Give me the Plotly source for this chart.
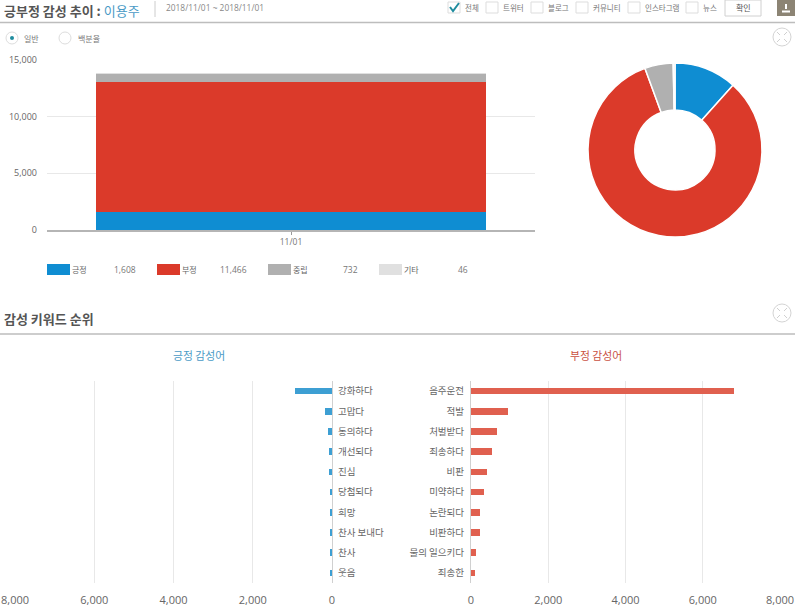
import plotly.graph_objects as go

sentiments = ["긍정", "부정", "중립", "기타"]
sentiment_values = [1608, 11466, 732, 46]
sentiment_colors = ["#0f8dd2", "#db3a2a", "#b0b0b0", "#e0e0e0"]
dates = ["11/01"]

pos_words = ["강화하다", "고맙다", "동의하다", "개선되다", "진심", "당첨되다", "희망", "찬사 보내다", "찬사", "웃음"]
pos_counts = [930, 185, 95, 70, 70, 55, 55, 55, 55, 30]
neg_words = ["음주운전", "적발", "처벌받다", "죄송하다", "비판", "미약하다", "논란되다", "비판하다", "물의 일으키다", "죄송한"]
neg_counts = [6810, 960, 670, 550, 415, 345, 240, 225, 130, 112]

legend_swatch_x = [47, 157, 268, 379]
legend_value_x = [125, 233, 350, 463]
channels = ["전체", "트위터", "블로그", "커뮤니티", "인스타그램", "뉴스"]
channel_box_x = [448, 486, 531, 576, 628, 686]

W, H = 800, 611
FONT = "Noto Sans CJK KR"
NUM_FONT = "Open Sans"
BLUE_TEXT = "#4a9ac6"
RED_TEXT = "#c9503f"


def fx(px):
    return px / W


def fy(py):
    return 1 - py / H


shapes = []
annotations = []


def text(px, py, s, size=9, color="#666666", anchor="left", family=FONT):
    annotations.append(dict(x=fx(px), y=fy(py), xref="paper", yref="paper", text=s, showarrow=False,
                            xanchor=anchor, yanchor="middle", align=anchor, borderpad=0,
                            font=dict(size=size, color=color, family=family)))


def rect(x0, y0, x1, y1, fill="rgba(0,0,0,0)", line="rgba(0,0,0,0)", kind="rect", width=1):
    shapes.append(dict(type=kind, xref="paper", yref="paper", x0=fx(x0), x1=fx(x1), y0=fy(y0), y1=fy(y1),
                       fillcolor=fill, line=dict(color=line, width=width), layer="above"))


def line(x0, y0, x1, y1, color="#c4c4c4", width=1):
    shapes.append(dict(type="line", xref="paper", yref="paper", x0=fx(x0), x1=fx(x1), y0=fy(y0), y1=fy(y1),
                       line=dict(color=color, width=width), layer="above"))


def expand_icon(cx, cy):
    rect(cx - 9, cy - 9, cx + 9, cy + 9, line="#d4d4d4", kind="circle")
    for dx, dy in [(-1, -1), (1, -1), (-1, 1), (1, 1)]:
        line(cx + dx * 2, cy + dy * 2, cx + dx * 5, cy + dy * 5, color="#d0d0d0")


fig = go.Figure()

# stacked bar, top left
for name, value, color in zip(sentiments, sentiment_values, sentiment_colors):
    fig.add_trace(go.Bar(x=dates, y=[value], name=name, marker=dict(color=color, line=dict(width=0)),
                         xaxis="x", yaxis="y", showlegend=False))

# donut
fig.add_trace(go.Pie(labels=sentiments, values=sentiment_values, hole=0.46, sort=False, direction="clockwise",
                     marker=dict(colors=sentiment_colors, line=dict(color="white", width=1.5)),
                     textinfo="none", showlegend=False,
                     domain=dict(x=[fx(588), fx(762)], y=[fy(237), fy(63)])))

# keyword rankings
fig.add_trace(go.Bar(x=pos_counts, y=pos_words, orientation="h", marker=dict(color="#3d9fd3", line=dict(width=0)),
                     xaxis="x2", yaxis="y2", showlegend=False))
fig.add_trace(go.Bar(x=neg_counts, y=neg_words, orientation="h", marker=dict(color="#e0604f", line=dict(width=0)),
                     xaxis="x3", yaxis="y3", showlegend=False))

# header
text(3, 10, '<b>긍부정 감성 추이 :</b> <span style="color:%s">이용주</span>' % BLUE_TEXT, size=13, color="#555555")
line(155, 1, 155, 17, color="#cccccc")
text(165, 8, "2018/11/01 ~ 2018/11/01", size=8.4, color="#888888", family=NUM_FONT)
line(0, 22.5, 795, 22.5, color="#bdbdbd", width=1.5)

for i, (name, bx) in enumerate(zip(channels, channel_box_x)):
    rect(bx, 2, bx + 12, 13, line="#dddddd", fill="white")
    text(bx + 16, 7.5, name, size=7.5, color="#777777")
fig_check = "M %f %f L %f %f L %f %f" % (fx(450), fy(7), fx(453), fy(11), fx(459), fy(3))
shapes.append(dict(type="path", xref="paper", yref="paper", path=fig_check, line=dict(color="#1f8c9e", width=2), layer="above"))
rect(725, 0, 761, 16, line="#d0d0d0", fill="white")
text(743, 7.5, "확인", size=8, color="#555555", anchor="center")
rect(777, 0, 795, 16, fill="#8c8474")
line(782, 11.5, 790, 11.5, color="white", width=2)
line(786, 4, 786, 9, color="white", width=2)

# view toggle
rect(6, 32, 18, 44, line="#dddddd", fill="white", kind="circle")
rect(10, 36, 14, 40, fill="#1f8c9e", kind="circle")
text(23, 38, "일반", size=8, color="#777777")
rect(59, 32, 71, 44, line="#dddddd", fill="white", kind="circle")
text(77, 38, "백분율", size=8, color="#777777")
expand_icon(782, 37)

# legend row
for name, value, color, sx, vx in zip(sentiments, sentiment_values, sentiment_colors, legend_swatch_x, legend_value_x):
    rect(sx, 264, sx + 23, 275, fill=color)
    text(sx + 23.5, 269.5, name, size=8, color="#666666")
    text(vx, 269.5, format(value, ","), size=8.5, color="#777777", anchor="center", family=NUM_FONT)

# second section
text(3, 318, "<b>감성 키워드 순위</b>", size=13, color="#555555")
line(0, 334, 795, 334, color="#bdbdbd", width=1.5)
expand_icon(782, 313)
text(199, 355, "긍정 감성어", size=10.8, color=BLUE_TEXT, anchor="center")
text(596, 355, "부정 감성어", size=10.8, color=RED_TEXT, anchor="center")

grid = "#e8e8e8"
num_font = dict(size=9, color="#666666", family=NUM_FONT)
rank_x = dict(range=[0, 8000], tickvals=[0, 2000, 4000, 6000, 8000], tickformat=",", showgrid=True, gridcolor=grid,
              zeroline=False, showline=False, ticks="", tickfont=dict(size=11, color="#666666", family=NUM_FONT),
              ticklabelstandoff=9)
rank_y = dict(type="category", categoryorder="array", autorange="reversed", showgrid=False, zeroline=False,
              showline=True, linecolor="#d0d0d0", linewidth=1, ticks="",
              tickfont=dict(size=9.5, color="#666666", family=FONT))

layout_x2 = dict(rank_x, domain=[fx(15), fx(332)], anchor="y2")
layout_x2["range"] = [8000, 0]
layout_x3 = dict(rank_x, domain=[fx(471), fx(780)], anchor="y3")
layout_y2 = dict(rank_y, domain=[fy(583), fy(381)], anchor="x2", side="right", categoryarray=pos_words, ticklabelstandoff=3)
layout_y3 = dict(rank_y, domain=[fy(583), fy(381)], anchor="x3", side="left", categoryarray=neg_words, ticklabelstandoff=4)

fig.update_layout(
    width=W, height=H, autosize=False, margin=dict(l=0, r=0, t=0, b=0, autoexpand=False),
    paper_bgcolor="white", plot_bgcolor="white",
    font=dict(family=FONT), barmode="stack", bargap=0.2,
    shapes=shapes, annotations=annotations,
    xaxis=dict(domain=[fx(47), fx(535)], anchor="y", type="category", showgrid=False, zeroline=False,
               showline=True, linecolor="#b5b5b5", linewidth=1.5, ticks="outside", ticklen=3, tickcolor="#999999",
               tickfont=dict(size=8.5, color="#777777", family=NUM_FONT)),
    yaxis=dict(domain=[fy(230), fy(60)], anchor="x", range=[0, 15000], tickvals=[0, 5000, 10000, 15000],
               tickformat=",", showgrid=True, gridcolor=grid, zeroline=False, showline=False, ticks="",
               tickfont=num_font, ticklabelstandoff=9),
    xaxis2=layout_x2, yaxis2=layout_y2, xaxis3=layout_x3, yaxis3=layout_y3,
)
# horizontal ranking bars are thinner than the stacked bar
fig.update_traces(width=0.33, selector=dict(orientation="h"))

fig.write_html("out.html", config=dict(displayModeBar=False), post_script="document.body.style.margin='0';")
